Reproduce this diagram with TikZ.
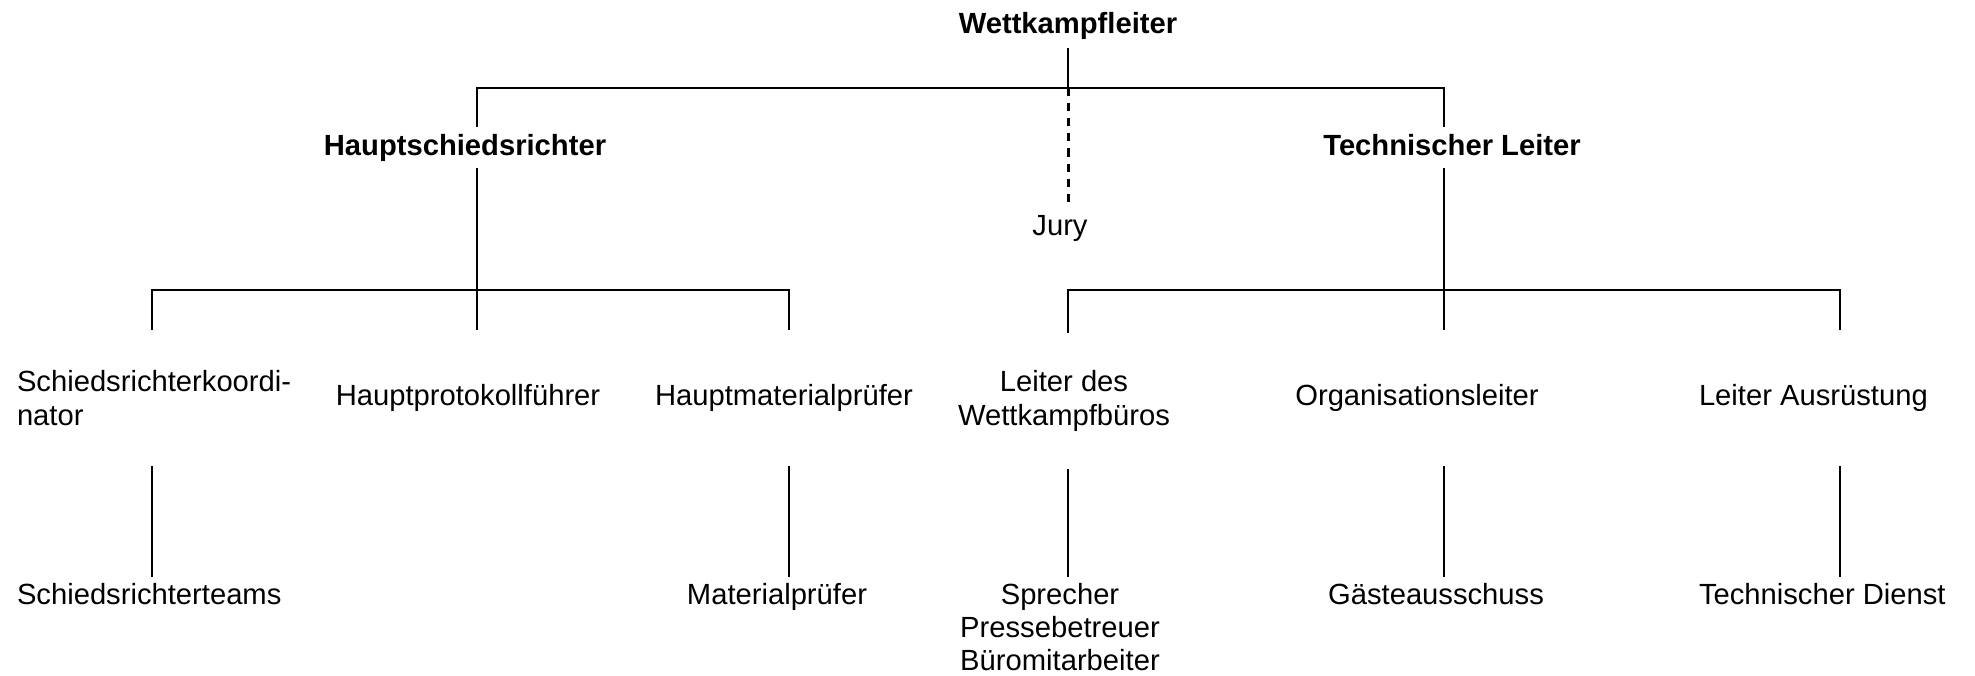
\documentclass[tikz,border=0pt]{standalone}
\usepackage{fontspec}
\setmainfont{Liberation Sans}

\begin{document}
\begin{tikzpicture}[x=0.01cm, y=-0.01cm, line width=0.57pt,
    every node/.style={font=\fontsize{8.3pt}{9.5pt}\selectfont, inner sep=0pt},
    chief/.style={font=\fontsize{8.3pt}{9.5pt}\selectfont\bfseries, text height=0.21cm, text depth=0.06cm, inner ysep=0.06cm},
    plain/.style={text height=0.21cm, text depth=0.06cm, inner ysep=0.06cm},
    office/.style={minimum height=1.34cm},
    staff/.style={anchor=north, inner ysep=0.05cm},
    jurylink/.style={dashed, dash pattern=on 2.3pt off 2pt, line width=0.85pt}]
            \useasboundingbox (0,0) rectangle (1975,675);
            \node[chief, inner ysep=0.08cm] (wkl) at (1068,25.5) {Wettkampfleiter};
            \node[chief] (hsr) at (465,147.5) {Hauptschiedsrichter};
            \node[chief] (tl) at (1452,147.5) {Technischer Leiter};
            \node[plain] (jury) at (1060,227.5) {Jury};
            \node[office, anchor=west, align=left] (skk) at (16,398) {Schiedsrichterkoordi-\\nator};
            \node[office] (hpf) at (468,398) {Hauptprotokollführer};
            \node[office] (hmp) at (784,398) {Hauptmaterialprüfer};
            \node[office, align=center] (lwb) at (1064,401) {Leiter des\\Wettkampfbüros};
            \node[office] (org) at (1417,398) {Organisationsleiter};
            \node[office, anchor=west] (lau) at (1698,398) {Leiter Ausrüstung};
            \node[staff, anchor=north west] (srt) at (16,577) {Schiedsrichterteams};
            \node[staff] (mp) at (777,577) {Materialprüfer};
            \node[staff, align=center] (spr) at (1060,577) {Sprecher\\Pressebetreuer\\Büromitarbeiter};
            \node[staff] (gae) at (1436,577) {Gästeausschuss};
            \node[staff, anchor=north west] (tdi) at (1698,577) {Technischer Dienst};
            \coordinate (top) at (1068,88);
            \coordinate (k1) at (152,290);
            \coordinate (k2) at (477,290);
            \coordinate (k3) at (789,290);
            \coordinate (k4) at (1068,290);
            \coordinate (k5) at (1444,290);
            \coordinate (k6) at (1840,290);
            \draw (wkl.south) -- (top);
            \draw (hsr.north -| k2) |- (top) -| (tl.north -| k5);
            \draw[jurylink] (top) -- (jury.north -| top);
            \draw (hsr.south -| k2) -- (k2);
            \draw (tl.south -| k5) -- (k5);
            \draw (skk.north -| k1) |- (k3) -- (hmp.north -| k3);
            \draw (hpf.north -| k2) -- (k2);
            \draw (lwb.north -| k4) |- (k6) -- (lau.north -| k6);
            \draw (org.north -| k5) -- (k5);
            \draw (skk.south -| k1) -- (srt.north -| k1);
            \draw (hmp.south -| k3) -- (mp.north -| k3);
            \draw (lwb.south -| k4) -- (spr.north -| k4);
            \draw (org.south -| k5) -- (gae.north -| k5);
            \draw (lau.south -| k6) -- (tdi.north -| k6);
        \end{tikzpicture}
\end{document}
